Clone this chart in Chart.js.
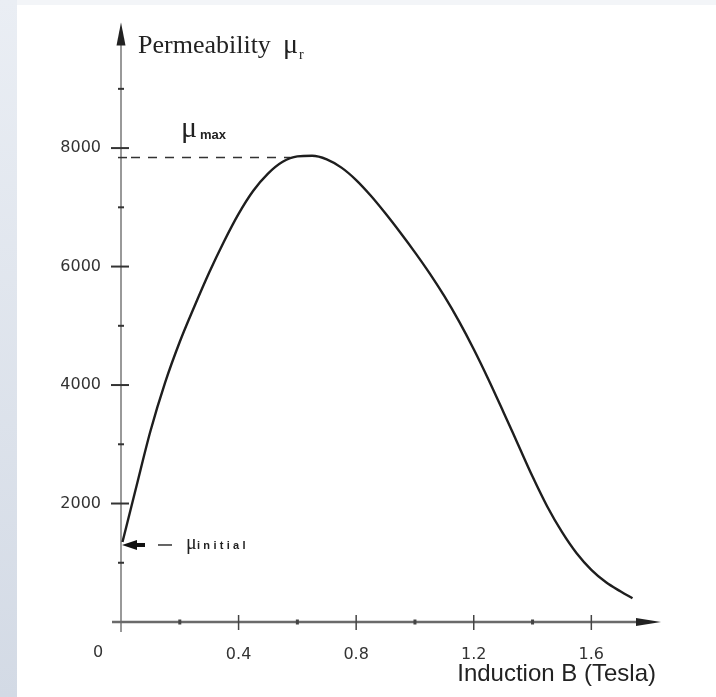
<!DOCTYPE html>
<html><head><meta charset="utf-8">
<script src="https://cdn.jsdelivr.net/npm/chart.js@4.4.1/dist/chart.umd.min.js"></script>
<style>html,body{margin:0;padding:0;background:#fff;overflow:hidden}#wrap{position:relative;width:716px;height:697px}</style>
</head><body><div id="wrap"><canvas id="c" width="716" height="697"></canvas></div>
<script>
// ---- data ----
const inductionB   = [0.005, 0.05, 0.10, 0.15, 0.20, 0.25, 0.30, 0.35, 0.40, 0.45, 0.50, 0.55, 0.60, 0.65, 0.70, 0.75, 0.80, 0.85, 0.90, 0.95, 1.00, 1.05, 1.10, 1.15, 1.20, 1.25, 1.30, 1.35, 1.40, 1.45, 1.50, 1.55, 1.60, 1.65, 1.70, 1.74];
const permeability = [1350, 2240, 3220, 4040, 4730, 5330, 5900, 6420, 6890, 7280, 7570, 7770, 7860, 7870, 7810, 7670, 7460, 7195, 6895, 6575, 6240, 5885, 5500, 5075, 4605, 4095, 3555, 3005, 2455, 1950, 1520, 1160, 880, 670, 515, 400];
const xTickValues  = [0.4, 0.8, 1.2, 1.6];
const xMinorValues = [0.2, 0.6, 1.0, 1.4];
const yTickValues  = [2000, 4000, 6000, 8000];
const yMinorValues = [1000, 3000, 5000, 7000, 9000];
const muMax = 7840;
const bAtMuMax = 0.575;
const muInitial = 1300;
const xAxisTitle = 'Induction B (Tesla)';
const yAxisTitle = 'Permeability';

const points = inductionB.map((b, i) => ({x: b, y: permeability[i]}));

const deco = {
  id: 'deco',
  beforeDraw(chart) {
    const ctx = chart.ctx;
    ctx.save();
    ctx.fillStyle = '#ffffff';
    ctx.fillRect(0, 0, chart.width, chart.height);
    ctx.fillStyle = '#f3f5f8';
    ctx.fillRect(0, 0, chart.width, 5);
    const g = ctx.createLinearGradient(0, 0, 0, chart.height);
    g.addColorStop(0, '#eaeef4');
    g.addColorStop(1, '#d3dae5');
    ctx.fillStyle = g;
    ctx.fillRect(0, 0, 17, chart.height);
    ctx.restore();
  },
  beforeDatasetsDraw(chart) {
    const ctx = chart.ctx, xs = chart.scales.x, ys = chart.scales.y, ca = chart.chartArea;
    const x0 = xs.getPixelForValue(0), y0 = ys.getPixelForValue(0);
    ctx.save();
    // y axis
    ctx.strokeStyle = '#555'; ctx.lineWidth = 1.2;
    ctx.beginPath(); ctx.moveTo(x0, y0 + 10); ctx.lineTo(x0, ca.top); ctx.stroke();
    ctx.fillStyle = '#222';
    ctx.beginPath(); ctx.moveTo(x0, ca.top - 7); ctx.lineTo(x0 - 4.5, ca.top + 16); ctx.lineTo(x0 + 4.5, ca.top + 16); ctx.closePath(); ctx.fill();
    // x axis
    ctx.strokeStyle = '#6a6a6a'; ctx.lineWidth = 2.5;
    ctx.beginPath(); ctx.moveTo(x0 - 9, y0); ctx.lineTo(ca.right - 16, y0); ctx.stroke();
    ctx.fillStyle = '#222';
    ctx.beginPath(); ctx.moveTo(ca.right + 5, y0); ctx.lineTo(ca.right - 20, y0 - 4); ctx.lineTo(ca.right - 20, y0 + 4); ctx.closePath(); ctx.fill();
    // y ticks
    ctx.strokeStyle = '#333'; ctx.lineWidth = 2;
    yTickValues.forEach(v => { const y = ys.getPixelForValue(v); ctx.beginPath(); ctx.moveTo(x0 - 10, y); ctx.lineTo(x0 + 8, y); ctx.stroke(); });
    yMinorValues.forEach(v => { const y = ys.getPixelForValue(v); ctx.beginPath(); ctx.moveTo(x0 - 3, y); ctx.lineTo(x0 + 3, y); ctx.stroke(); });
    // x ticks
    ctx.strokeStyle = '#444'; ctx.lineWidth = 1.5;
    xTickValues.forEach(v => { const x = xs.getPixelForValue(v); ctx.beginPath(); ctx.moveTo(x, y0 - 7); ctx.lineTo(x, y0 + 8); ctx.stroke(); });
    ctx.fillStyle = '#444';
    xMinorValues.forEach(v => { const x = xs.getPixelForValue(v); ctx.fillRect(x - 1.5, y0 - 2.5, 3, 5); });
    // mu max dashed line
    const ym = ys.getPixelForValue(muMax);
    ctx.strokeStyle = '#333'; ctx.lineWidth = 1.5;
    ctx.beginPath(); ctx.moveTo(x0 - 3, ym); ctx.lineTo(x0 + 6, ym); ctx.stroke();
    ctx.setLineDash([9, 8]);
    ctx.beginPath(); ctx.moveTo(x0 + 10, ym); ctx.lineTo(xs.getPixelForValue(bAtMuMax), ym); ctx.stroke();
    ctx.setLineDash([]);
    // mu initial arrow
    const yi = ys.getPixelForValue(muInitial);
    ctx.fillStyle = '#111';
    ctx.beginPath(); ctx.moveTo(x0 + 1, yi); ctx.lineTo(x0 + 16, yi - 5); ctx.lineTo(x0 + 16, yi + 5); ctx.closePath(); ctx.fill();
    ctx.fillRect(x0 + 14, yi - 2, 10, 4);
    ctx.strokeStyle = '#333'; ctx.lineWidth = 1.5;
    ctx.beginPath(); ctx.moveTo(x0 + 37, yi); ctx.lineTo(x0 + 51, yi); ctx.stroke();
    ctx.restore();
  },
  afterDraw(chart) {
    const ctx = chart.ctx, xs = chart.scales.x, ys = chart.scales.y;
    const x0 = xs.getPixelForValue(0), y0 = ys.getPixelForValue(0);
    ctx.save();
    ctx.fillStyle = '#222';
    ctx.textBaseline = 'alphabetic';
    // y axis title
    ctx.font = '26px "Liberation Serif"';
    ctx.fillText(yAxisTitle, x0 + 17, 53);
    ctx.font = '28px "Liberation Serif"';
    ctx.fillText('μ', x0 + 162, 53);
    ctx.font = '14px "Liberation Serif"';
    ctx.fillText('r', x0 + 178, 59);
    // mu max label
    const ym = ys.getPixelForValue(muMax);
    ctx.font = '30px "Liberation Serif"';
    ctx.fillText('μ', x0 + 60, ym - 21);
    ctx.font = 'bold 13px "Liberation Sans"';
    ctx.fillText('max', x0 + 79, ym - 19);
    // mu initial label
    const yi = ys.getPixelForValue(muInitial);
    ctx.font = '20px "Liberation Serif"';
    ctx.fillText('μ', x0 + 65, yi + 4);
    ctx.font = 'bold 11px "Liberation Sans"';
    try { ctx.letterSpacing = '3.3px'; } catch (e) {}
    ctx.fillText('initial', x0 + 76, yi + 4);
    try { ctx.letterSpacing = '0px'; } catch (e) {}
    // origin label
    ctx.font = '16px "DejaVu Sans"';
    ctx.fillStyle = '#333';
    ctx.textAlign = 'center'; ctx.textBaseline = 'middle';
    ctx.fillText('0', x0 - 23, y0 + 31);
    ctx.restore();
  }
};

new Chart(document.getElementById('c'), {
  type: 'scatter',
  data: {
    datasets: [{
      data: points,
      showLine: true,
      borderColor: '#1e1e1e',
      borderWidth: 2.4,
      pointRadius: 0,
      cubicInterpolationMode: 'monotone',
      fill: false
    }]
  },
  options: {
    responsive: false,
    animation: false,
    devicePixelRatio: 1,
    layout: { padding: { left: 0, top: 22, right: 60, bottom: 0 } },
    plugins: { legend: { display: false }, tooltip: { enabled: false } },
    scales: {
      x: {
        type: 'linear', min: 0, max: 1.82,
        afterBuildTicks: s => { s.ticks = xTickValues.map(v => ({ value: v })); },
        afterFit: s => { s.height = 75; },
        grid: { display: false, drawTicks: false },
        border: { display: false },
        ticks: { padding: 23, color: '#333', font: { family: 'DejaVu Sans', size: 16 }, callback: v => String(v), maxRotation: 0, autoSkip: false },
        title: { display: true, text: xAxisTitle, align: 'end', color: '#222', padding: { top: 0, bottom: 8 }, font: { family: 'Liberation Sans', size: 24 } }
      },
      y: {
        type: 'linear', min: 0, max: 10000,
        afterBuildTicks: s => { s.ticks = yTickValues.map(v => ({ value: v })); },
        afterFit: s => { s.width = 121; },
        grid: { display: false, drawTicks: false },
        border: { display: false },
        ticks: { padding: 20, color: '#333', font: { family: 'DejaVu Sans', size: 16 }, callback: v => String(v) }
      }
    }
  },
  plugins: [deco]
});
</script>
</body></html>
